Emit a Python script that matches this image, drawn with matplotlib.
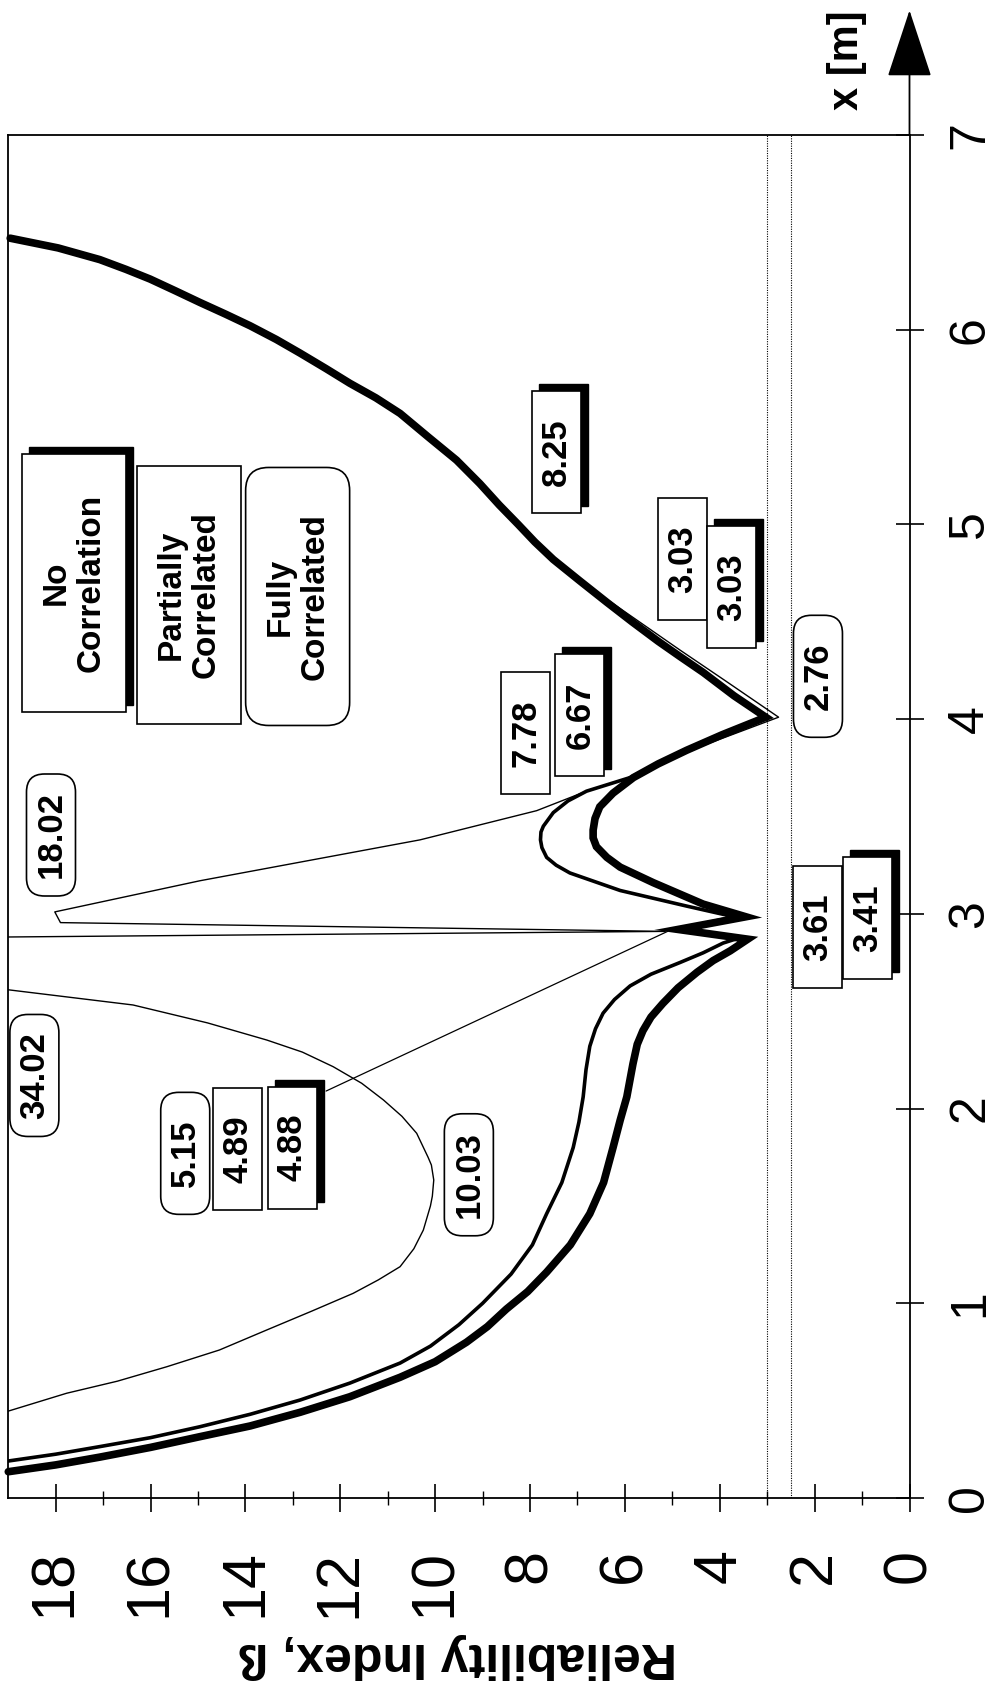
"""
Reliability index along the span for three correlation assumptions
(chart is drawn turned on its side: x [m] runs upward, beta runs leftward)
"""
import matplotlib
matplotlib.use('Agg')
import matplotlib.pyplot as plt
from matplotlib.patches import Rectangle, FancyBboxPatch
from matplotlib.transforms import ScaledTranslation

plt.rcParams['font.family'] = ['Liberation Sans', 'DejaVu Sans']

# ---- data ----
# No correlation (thick line)
x_nc = [0.135, 0.17, 0.21, 0.26, 0.315, 0.37, 0.44, 0.52, 0.62, 0.70, 0.80, 0.88,
        0.97, 1.06, 1.16, 1.30, 1.46, 1.62, 1.80, 1.94, 2.06, 2.23, 2.33, 2.40,
        2.47, 2.54, 2.62, 2.70, 2.76, 2.81, 2.87, 2.92, 2.985, 3.05, 3.16, 3.24,
        3.29, 3.345, 3.39, 3.43, 3.49, 3.55, 3.62, 3.70, 3.77, 3.84, 3.92, 4.01,
        4.12, 4.24, 4.32, 4.40, 4.50, 4.60, 4.71, 4.82, 4.91, 5.00, 5.10, 5.21,
        5.33, 5.45, 5.57, 5.65, 5.725, 5.80, 5.88, 5.95, 6.02, 6.08, 6.14, 6.20,
        6.26, 6.31, 6.36, 6.42, 6.47]
b_nc = [19.0, 18.0, 17.07, 16.0, 14.96, 13.9, 12.85, 11.8, 10.74, 10.0, 9.34, 8.9,
        8.5, 8.05, 7.65, 7.15, 6.74, 6.45, 6.25, 6.1, 5.96, 5.83, 5.74, 5.62,
        5.45, 5.2, 4.88, 4.48, 4.14, 3.78, 3.41, 4.88, 3.45, 4.35, 5.40, 6.10,
        6.38, 6.60, 6.67, 6.67, 6.63, 6.53, 6.25, 5.82, 5.30, 4.70, 3.95, 3.03,
        3.70, 4.35, 4.83, 5.30, 5.85, 6.38, 6.95, 7.51, 7.90, 8.25, 8.65, 9.06,
        9.55, 10.15, 10.74, 11.25, 11.80, 12.30, 12.85, 13.35, 13.90, 14.42, 14.96, 15.48,
        16.01, 16.52, 17.07, 17.95, 18.96]

# Partially correlated (medium line)
x_pc = [0.19, 0.225, 0.264, 0.31, 0.366, 0.43, 0.503, 0.59, 0.693, 0.78, 0.89, 1.00,
        1.15, 1.30, 1.46, 1.62, 1.80, 1.93, 2.06, 2.20, 2.32, 2.41, 2.49, 2.56,
        2.63, 2.69, 2.75, 2.80, 2.85, 2.875, 2.92, 2.985, 3.04, 3.12, 3.21, 3.25,
        3.29, 3.34, 3.38, 3.42, 3.45, 3.52, 3.58, 3.63, 3.70, 3.77, 3.84, 3.92,
        4.01, 4.12, 4.24, 4.32, 4.40, 4.50, 4.60, 4.71, 4.82, 4.91, 5.00, 5.10,
        5.21, 5.33, 5.45, 5.57, 5.65, 5.725, 5.80, 5.88, 5.95, 6.02, 6.08, 6.14,
        6.20, 6.26, 6.31, 6.36, 6.42, 6.47]
b_pc = [19.0, 18.0, 17.07, 16.0, 14.96, 13.9, 12.85, 11.8, 10.74, 10.1, 9.5, 9.0,
        8.4, 7.95, 7.65, 7.33, 7.09, 6.97, 6.88, 6.82, 6.74, 6.62, 6.46, 6.22,
        5.89, 5.45, 4.84, 4.35, 3.93, 3.61, 4.89, 3.70, 4.70, 6.10, 7.16, 7.45,
        7.65, 7.75, 7.78, 7.77, 7.72, 7.51, 7.20, 6.81, 5.89, 5.30, 4.70, 3.95,
        3.03, 3.70, 4.35, 4.83, 5.30, 5.85, 6.38, 6.95, 7.51, 7.90, 8.25, 8.65,
        9.06, 9.55, 10.15, 10.74, 11.25, 11.80, 12.30, 12.85, 13.35, 13.90, 14.42, 14.96,
        15.48, 16.01, 16.52, 17.07, 17.95, 18.96]

# Fully correlated (thin line)
x_fc = [0.40, 0.45, 0.538, 0.60, 0.674, 0.76, 0.863, 0.96, 1.051, 1.12, 1.188, 1.28,
        1.376, 1.50, 1.55, 1.633, 1.71, 1.75, 1.873, 1.96, 2.044, 2.13, 2.215, 2.29,
        2.352, 2.44, 2.532, 2.61, 2.73, 2.85, 2.91, 2.955, 3.01, 3.17, 3.38, 3.53,
        3.63, 3.70, 3.84, 4.01, 4.20, 4.355, 4.58, 4.71, 4.82, 4.91, 5.00, 5.10,
        5.21, 5.33, 5.45, 5.57, 5.65, 5.725, 5.80, 5.88, 5.95, 6.02, 6.08, 6.14,
        6.20, 6.26, 6.31, 6.36, 6.42, 6.47]
b_fc = [19.62, 18.95, 17.77, 16.7, 15.66, 14.55, 13.55, 12.6, 11.73, 11.2, 10.74, 10.45,
        10.25, 10.1, 10.06, 10.03, 10.08, 10.15, 10.39, 10.7, 11.09, 11.55, 12.15, 12.8,
        13.55, 14.8, 16.37, 19.0, 26.0, 34.02, 5.15, 17.9, 18.02, 14.96, 10.32, 7.86,
        6.81, 5.89, 4.62, 2.76, 3.9, 4.84, 6.17, 6.95, 7.51, 7.90, 8.25, 8.65,
        9.06, 9.55, 10.15, 10.74, 11.25, 11.80, 12.30, 12.85, 13.35, 13.90, 14.42, 14.96,
        15.48, 16.01, 16.52, 17.07, 17.95, 18.96]

# target reliability levels (dotted)
beta_target = [3.0, 2.5]

# legend / value labels
legend_text = ['No\nCorrelation', 'Partially\nCorrelated', 'Fully\nCorrelated']
value_text = ['34.02', '5.15', '4.89', '4.88', '10.03', '18.02', '7.78', '6.67',
              '8.25', '3.03', '3.03', '2.76', '3.61', '3.41']

# ---- layout (label centres in data units, box style) ----
legend_pos = [(17.62, 4.70, 'shadow'), (15.19, 4.64, 'rect'), (12.90, 4.63, 'round')]
value_pos = [(18.45, 2.17, 'round'), (15.27, 1.77, 'round'), (14.16, 1.79, 'rect'),
             (13.01, 1.80, 'shadow'), (9.29, 1.66, 'round'), (18.10, 3.405, 'round'),
             (8.09, 3.93, 'rect'), (6.95, 4.02, 'shadow'), (7.45, 5.37, 'shadow'),
             (4.79, 4.82, 'rect'), (3.75, 4.68, 'shadow'), (1.93, 4.22, 'round'),
             (1.94, 2.93, 'rect'), (0.875, 2.98, 'shadow')]

W, H = 1002, 1682
fig = plt.figure(figsize=(W / 100, H / 100), dpi=100)
ax = fig.add_axes([8.3 / W, (H - 1498) / H, (909.5 - 8.3) / W, (1498 - 135) / H])
ax.set_xlim(19, 0)
ax.set_ylim(0, 7)

for b in beta_target:
    ax.axvline(b, color='k', lw=0.8, ls=(0, (1, 1.2)), zorder=2)

ax.plot(b_fc, x_fc, color='k', lw=1.0, zorder=3)
ax.plot(b_pc, x_pc, color='k', lw=2.6, zorder=3, solid_joinstyle='miter')
ax.plot(b_nc, x_nc, color='k', lw=5.5, zorder=4, solid_joinstyle='miter',
        solid_capstyle='round', clip_on=False)

# leader from the 5.15 / 4.89 / 4.88 labels to the local peak near x = 2.9
ax.annotate('', xy=(5.1, 2.91), xytext=(12.3, 2.09),
            arrowprops=dict(arrowstyle='-', lw=0.9, color='k', shrinkA=0, shrinkB=0))


def label_box(txt, b, xm, style, w, h, fs, r, ls):
    """box (sizes in inches) centred on a data point, text turned 90 deg"""
    tr = fig.dpi_scale_trans + ScaledTranslation(b, xm, ax.transData)
    if style == 'shadow':
        ax.add_patch(Rectangle((-w / 2 + 0.07, -h / 2 + 0.07), w, h, transform=tr,
                               fc='k', ec='k', lw=1, zorder=6, clip_on=False))
    if style == 'round':
        p = FancyBboxPatch((-w / 2, -h / 2), w, h,
                           boxstyle=f'round,pad=0,rounding_size={r}', transform=tr,
                           fc='w', ec='k', lw=1.2, zorder=7, clip_on=False)
    else:
        p = Rectangle((-w / 2, -h / 2), w, h, transform=tr,
                      fc='w', ec='k', lw=1.2, zorder=7, clip_on=False)
    ax.add_patch(p)
    ax.text(b, xm, txt, rotation=90, ha='center', va='center', fontsize=fs,
            fontweight='bold', linespacing=ls, zorder=8)


for txt, (b, xm, st) in zip(legend_text, legend_pos):
    label_box(txt, b, xm, st, 1.04, 2.58, 24, 0.23, 1.15)
for txt, (b, xm, st) in zip(value_text, value_pos):
    label_box(txt, b, xm, st, 0.49, 1.22, 25, 0.18, 1.0)

# axes / ticks
for s in ax.spines.values():
    s.set_linewidth(1.3)
ax.set_xticks(range(0, 19, 2))
ax.set_xticks(range(1, 19, 2), minor=True)
ax.tick_params(axis='x', which='major', direction='inout', length=20, width=1.2,
               labelsize=44, labelrotation=90, pad=27)
ax.tick_params(axis='x', which='minor', direction='inout', length=10, width=1.0)
ax.yaxis.tick_right()
ax.set_yticks(range(0, 8))
ax.tick_params(axis='y', which='major', direction='inout', length=20, width=1.2,
               labelsize=36, labelrotation=90, pad=17)
for t in ax.get_yticklabels():
    t.set_va('center')

# axis arrow and titles
ax.annotate('', xy=(0, 7.64), xytext=(0, 7.0),
            arrowprops=dict(arrowstyle='-|>,head_length=4.4,head_width=1.45',
                            mutation_scale=10, lw=1.3, color='k',
                            shrinkA=0, shrinkB=0),
            annotation_clip=False)
fig.text(847 / W, 1 - 60 / H, 'x [m]', rotation=90, fontsize=30,
         fontweight='bold', ha='center', va='center')
fig.text(458 / W, 1 - 1656 / H, 'Reliability Index, ß', rotation=180, fontsize=36,
         fontweight='bold', ha='center', va='center')

fig.savefig('out.png', dpi=100)
print("Saved: out.png")
